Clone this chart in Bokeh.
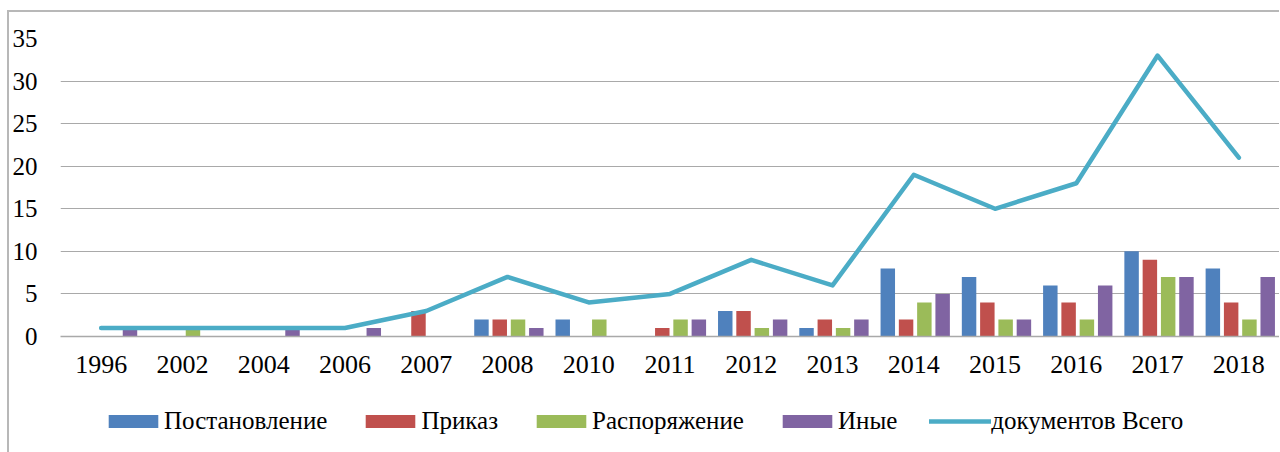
from bokeh.plotting import figure
from bokeh.layouts import column
from bokeh.models import ColumnDataSource, Range1d, FactorRange, Legend, LegendItem, FixedTicker
from bokeh.transform import dodge
from bokeh.embed import file_html
from bokeh.resources import INLINE

years = ["1996", "2002", "2004", "2006", "2007", "2008", "2010", "2011",
         "2012", "2013", "2014", "2015", "2016", "2017", "2018"]
postanovlenie = [0, 0, 0, 0, 0, 2, 2, 0, 3, 1, 8, 7, 6, 10, 8]
prikaz = [0, 0, 0, 0, 3, 2, 0, 1, 3, 2, 2, 4, 4, 9, 4]
rasporyazhenie = [0, 1, 0, 0, 0, 2, 2, 2, 1, 1, 4, 2, 2, 7, 2]
inye = [1, 0, 1, 1, 0, 1, 0, 2, 2, 2, 5, 2, 6, 7, 7]
total = [1, 1, 1, 1, 3, 7, 4, 5, 9, 6, 19, 15, 18, 33, 21]

series_names = ["Постановление", "Приказ", "Распоряжение", "Иные"]
line_name = "документов Всего"
y_ticks = [0, 5, 10, 15, 20, 25, 30, 35]

src = ColumnDataSource(dict(year=years, p=postanovlenie, r=prikaz,
                            s=rasporyazhenie, i=inye, t=total))

FONT = "Liberation Serif"
GRID = "#A9A9A9"
W = 1270

p = figure(width=W, height=368, x_range=FactorRange(*years, range_padding=0),
           y_range=Range1d(0, 35), output_backend="svg", toolbar_location=None,
           min_border_left=49, min_border_right=0, min_border_top=26,
           min_border_bottom=44)
p.outline_line_color = None
p.background_fill_color = "white"
p.border_fill_color = "white"

colors = ["#4F81BD", "#C0504D", "#9BBB59", "#8064A2"]
cols = ["p", "r", "s", "i"]
offsets = [-0.32, -0.095, 0.13, 0.355]
bar_w = 0.178
for c, col, off in zip(colors, cols, offsets):
    p.vbar(x=dodge("year", off, range=p.x_range), top=col, width=bar_w,
           source=src, fill_color=c, line_color=None)

LINE_C = "#4BACC6"
p.line(x="year", y="t", source=src, line_color=LINE_C, line_width=4.5,
       line_join="round", line_cap="round")

p.xaxis.axis_line_color = GRID
p.xaxis.axis_line_width = 1.5
p.xaxis.major_tick_line_color = None
p.xaxis.minor_tick_line_color = None
p.xaxis.major_label_text_font = FONT
p.xaxis.major_label_text_font_size = "26px"
p.xaxis.major_label_text_color = "black"
p.xaxis.major_label_standoff = 13

p.yaxis.ticker = FixedTicker(ticks=y_ticks)
p.yaxis.axis_line_color = None
p.yaxis.major_tick_line_color = None
p.yaxis.minor_tick_line_color = None
p.yaxis.major_tick_out = 0
p.yaxis.major_tick_in = 0
p.yaxis.minor_tick_out = 0
p.yaxis.major_label_text_font = FONT
p.yaxis.major_label_text_font_size = "25px"
p.yaxis.major_label_text_color = "black"
p.yaxis.major_label_standoff = 23

p.xgrid.grid_line_color = None
p.ygrid.ticker = FixedTicker(ticks=y_ticks)
p.ygrid.grid_line_color = GRID
p.ygrid.grid_line_width = 1.2

# legend strip (proxy renderers draw nothing themselves)
lf = figure(width=W, height=72, x_range=Range1d(0, W), y_range=Range1d(0, 72),
            output_backend="svg", toolbar_location=None,
            x_axis_location=None, y_axis_location=None,
            min_border_left=0, min_border_right=0, min_border_top=0,
            min_border_bottom=0)
lf.outline_line_color = None
lf.grid.grid_line_color = None
lf.border_fill_color = "white"

items = []
for n, c in zip(series_names, colors):
    r = lf.vbar(x=[0], top=[0], width=0, fill_color=c, line_color=None)
    items.append(LegendItem(label=n, renderers=[r]))
rl = lf.line(x=[0, 0], y=[0, 0], line_color=LINE_C, line_width=4.5,
             line_cap="round", visible=False)
items.append(LegendItem(label=line_name, renderers=[rl]))

legend = Legend(items=items, orientation="horizontal", location=(42, 17),
                glyph_width=62, glyph_height=16, label_standoff=-2, spacing=32,
                padding=0, margin=0, border_line_color=None,
                background_fill_alpha=0, label_text_font=FONT,
                label_text_font_size="25px", label_text_color="black",
                inactive_fill_alpha=0)
lf.add_layout(legend, "center")

layout = column(p, lf, spacing=0)
layout.styles = {"border-top": "2px solid #B8B8B8", "border-left": "2px solid #B8B8B8",
                 "margin-left": "7px", "margin-top": "10px"}

open("out.html", "w").write(file_html(layout, INLINE))
